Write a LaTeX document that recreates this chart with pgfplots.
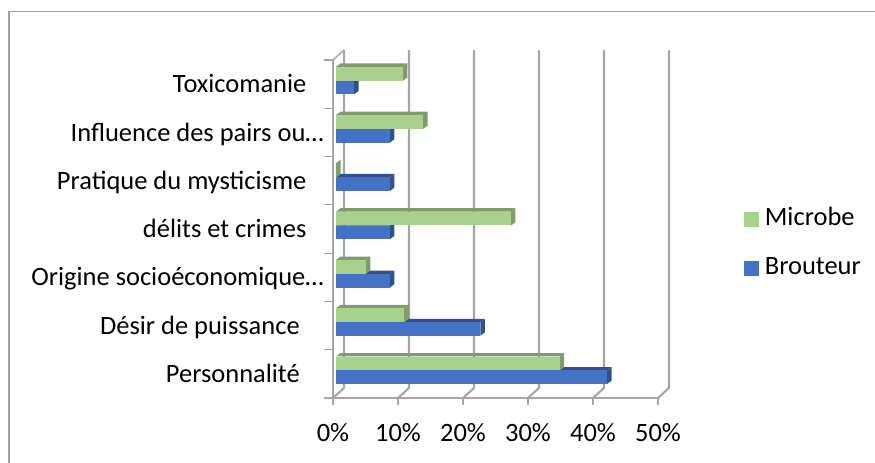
\documentclass[border=0pt]{standalone}
\usepackage{fontspec}
\setmainfont{Carlito}
\usepackage{pgfplots}
\pgfplotsset{compat=1.18}

\definecolor{wallgray}{HTML}{A6A6A6}
\definecolor{framegray}{HTML}{A0A0A0}
\definecolor{cgreen}{HTML}{A9D18E}
\definecolor{cgreentop}{HTML}{7F9C6B}
\definecolor{cblue}{HTML}{4472C4}
\definecolor{cbluetop}{HTML}{2F528F}

% one wall line of the 3D frame, x in percent
\newcommand{\wall}[1]{\addplot[wallgray,line width=1.6pt,forget plot] coordinates {(#1+1.69,7.207)(#1+1.69,0.207)(#1,0)};}

% one bar with its side and top faces: {low y}{high y}{centre y}{value}{front}{shade}
\newcommand{\onebar}[6]{%
  \addplot[fill=#6,draw=none,forget plot] coordinates {(0,#2)(#4,#2)(#4+0.7,#2+0.07)(0.7,#2+0.07)} -- cycle;
  \addplot[fill=#6,draw=none,forget plot] coordinates {(#4,#1)(#4+0.7,#1+0.07)(#4+0.7,#2+0.07)(#4,#2)} -- cycle;
  \addplot[xbar,bar width=10.3pt,bar shift=0pt,fill=#5,draw=none,forget plot] coordinates {(#4,#3)};
}
% one category: {position}{Brouteur}{Microbe}
\newcommand{\cat}[3]{%
  \onebar{#1+0.29}{#1+0.57}{#1+0.43}{#2}{cblue}{cbluetop}
  \onebar{#1+0.57}{#1+0.86}{#1+0.715}{#3}{cgreen}{cgreentop}
}

\begin{document}
\begin{tikzpicture}[font=\fontsize{19.85}{23}\selectfont]
  \path[use as bounding box] (-249.75pt,-48.75pt) rectangle (406.5pt,298.5pt);
  \draw[framegray,line width=0.9pt] (-243pt,-48.75pt) -- (-243pt,289.9pt) -- (406.5pt,289.9pt);

  \begin{axis}[
    scale only axis,
    width=243.75pt, height=253.5pt,
    at={(0pt,0pt)}, anchor=south west,
    xmin=0, xmax=50, ymin=0, ymax=7,
    clip=false,
    axis x line=bottom, axis y line=left,
    axis line style={-,draw=wallgray,line width=1.1pt},
    tick align=outside,
    xtick={0,10,20,30,40,50},
    xticklabels={0\%,10\%,20\%,30\%,40\%,50\%},
    ytick={0.5,1.5,2.5,3.5,4.5,5.5,6.5},
    yticklabels={
      Personnalité\hspace*{18pt},
      Désir de puissance\hspace*{18pt},
      Origine socioéconomique…,
      délits et crimes\hspace*{13pt},
      Pratique du mysticisme\hspace*{13pt},
      Influence des pairs ou…,
      Toxicomanie\hspace*{13pt}},
    minor ytick={0,1,2,3,4,5,6,7},
    major tick length=5.25pt,
    minor tick length=6.75pt,
    major y tick style={draw=none},
    minor y tick style={wallgray,line width=0.8pt},
    major x tick style={wallgray,line width=0.8pt},
    yticklabel style={text height=13pt,text depth=4pt,inner sep=0pt,anchor=east,xshift=-1.5pt,yshift=-2pt},
    xticklabel style={text height=13pt,text depth=0pt,inner sep=0pt,yshift=-14.5pt},
  ]
    \wall{0}\wall{10}\wall{20}\wall{30}\wall{40}\wall{50}
    \addplot[wallgray,line width=1.1pt,forget plot] coordinates {(0,7)(1.69,7.207)};
  \end{axis}

  \begin{axis}[
    scale only axis,
    width=243.75pt, height=253.5pt,
    at={(2.25pt,0pt)}, anchor=south west,
    xmin=0, xmax=50, ymin=0, ymax=7,
    clip=false,
    hide axis,
    legend image code/.code={\path[#1] (0pt,-5.6pt) rectangle (11.25pt,5.6pt);},
    legend style={
      at={(1.255,0.562)}, anchor=north west,
      draw=none, fill=none, inner sep=0pt, outer sep=0pt,
      row sep=19.5pt,
      nodes={inner sep=0pt,text height=13pt,text depth=4pt},
    },
    legend cell align=left,
  ]
    \cat{6}{2.8}{10.3}
    \cat{5}{8.3}{13.4}
    \cat{4}{8.3}{0}
    \cat{3}{8.3}{26.9}
    \cat{2}{8.3}{4.6}
    \cat{1}{22.2}{10.5}
    \cat{0}{41.7}{34.4}
    \addlegendimage{fill=cgreen,draw=none}
    \addlegendentry{\hspace*{4.5pt}Microbe}
    \addlegendimage{fill=cblue,draw=none}
    \addlegendentry{\hspace*{4.5pt}Brouteur}
  \end{axis}
\end{tikzpicture}
\end{document}
